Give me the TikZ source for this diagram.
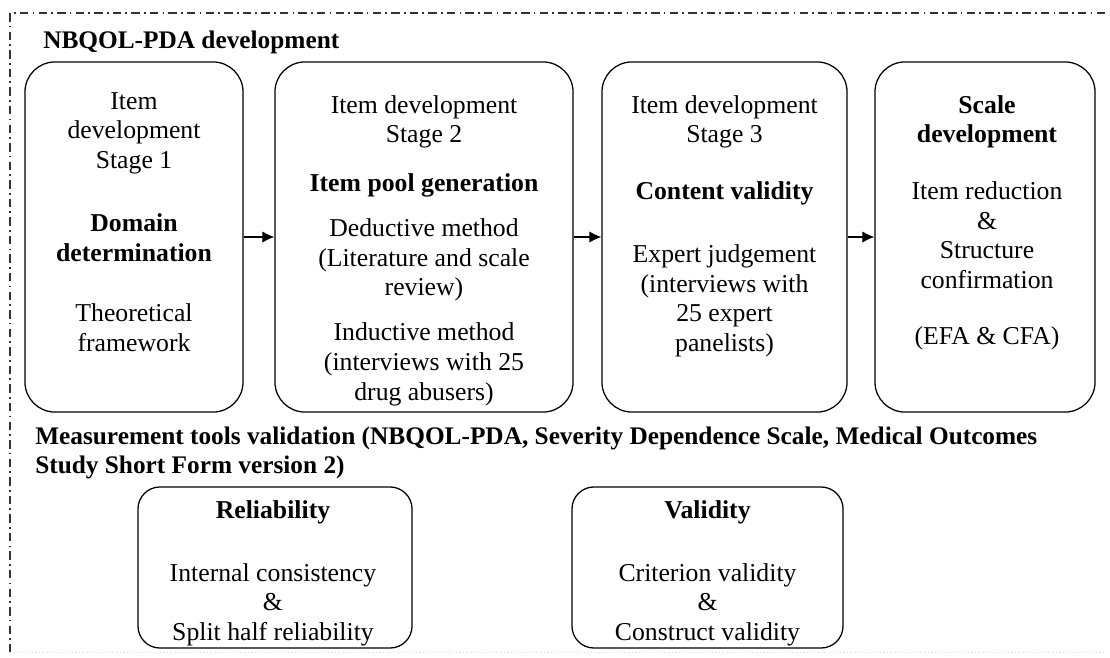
\documentclass[tikz,border=0pt]{standalone}
\usepackage{fontspec}
\setmainfont{Liberation Serif}
\usepackage{tikz}
\usetikzlibrary{arrows.meta}

\tikzset{
    stagebox/.style={draw, line width=0.9pt, rounded corners=0.75cm, minimum height=8.75cm, inner sep=0pt},
    testbox/.style={draw, line width=0.9pt, rounded corners=0.55cm, minimum height=4.025cm, inner sep=0pt},
    txt/.style={align=center, anchor=north, inner sep=0pt, font=\fontsize{18.3}{21}\selectfont},
    head/.style={align=left, inner sep=0pt, font=\fontsize{18}{20.6}\selectfont\bfseries},
    flow/.style={-{Latex[length=8.5pt, width=8pt]}, line width=0.8pt},
}

\begin{document}
\begin{tikzpicture}[x=0.025cm, y=-0.025cm]
        \useasboundingbox (0,0) rectangle (1110,657);

        % outer frame
        \draw[line width=0.8pt, black!80, dash pattern=on 6pt off 3pt on 1.2pt off 3pt] (1105,13) -- (10,13) -- (10,652);
        \draw[line width=0.6pt, black!15, dotted] (10,652) -- (1105,652);

        \node[head, anchor=west] (devtitle) at (43,42) {NBQOL-PDA development};

        % stage boxes
        \node[stagebox, minimum width=5.45cm] (s1) at (134,237) {};
        \node[stagebox, minimum width=7.45cm] (s2) at (424,237) {};
        \node[stagebox, minimum width=6.125cm] (s3) at (724.5,237) {};
        \node[stagebox, minimum width=5.5cm] (s4) at (985,237) {};

        \node[txt] (s1txt) at (134,92) {Item\\development\\Stage 1\\[24pt]
            \textbf{Domain}\\\textbf{determination}\\[22pt]
            Theoretical\\framework};

        \node[txt] (s2txt) at (424,95) {Item development\\Stage 2\\[14pt]
            \textbf{Item pool generation}\\[11pt]
            Deductive method\\(Literature and scale\\review)\\[11pt]
            Inductive method\\(interviews with 25\\drug abusers)};

        \node[txt] (s3txt) at (724.5,95) {Item development\\Stage 3\\[19.5pt]
            \textbf{Content validity}\\[24pt]
            Expert judgement\\(interviews with\\25 expert\\panelists)};

        \node[txt] (s4txt) at (987,95) {\textbf{Scale}\\\textbf{development}\\[19.5pt]
            Item reduction\\\&\\Structure\\confirmation\\[19pt]
            (EFA \& CFA)};

        \draw[flow] (s1) -- (s2);
        \draw[flow] (s2) -- (s3);
        \draw[flow] (s3) -- (s4);

        \node[head, anchor=north west] (valtitle) at (35,427) {Measurement tools validation (NBQOL-PDA, Severity Dependence Scale, Medical Outcomes\\Study Short Form version 2)};

        % validation boxes
        \node[testbox, minimum width=6.85cm] (rel) at (275,567.5) {};
        \node[testbox, minimum width=6.775cm] (val) at (707.5,567.5) {};

        \node[txt] (reltxt) at (273,500) {\textbf{Reliability}\\[24pt]
            Internal consistency\\\&\\Split half reliability};

        \node[txt] (valtxt) at (707.5,500) {\textbf{Validity}\\[24pt]
            Criterion validity\\\&\\Construct validity};

\end{tikzpicture}
\end{document}
